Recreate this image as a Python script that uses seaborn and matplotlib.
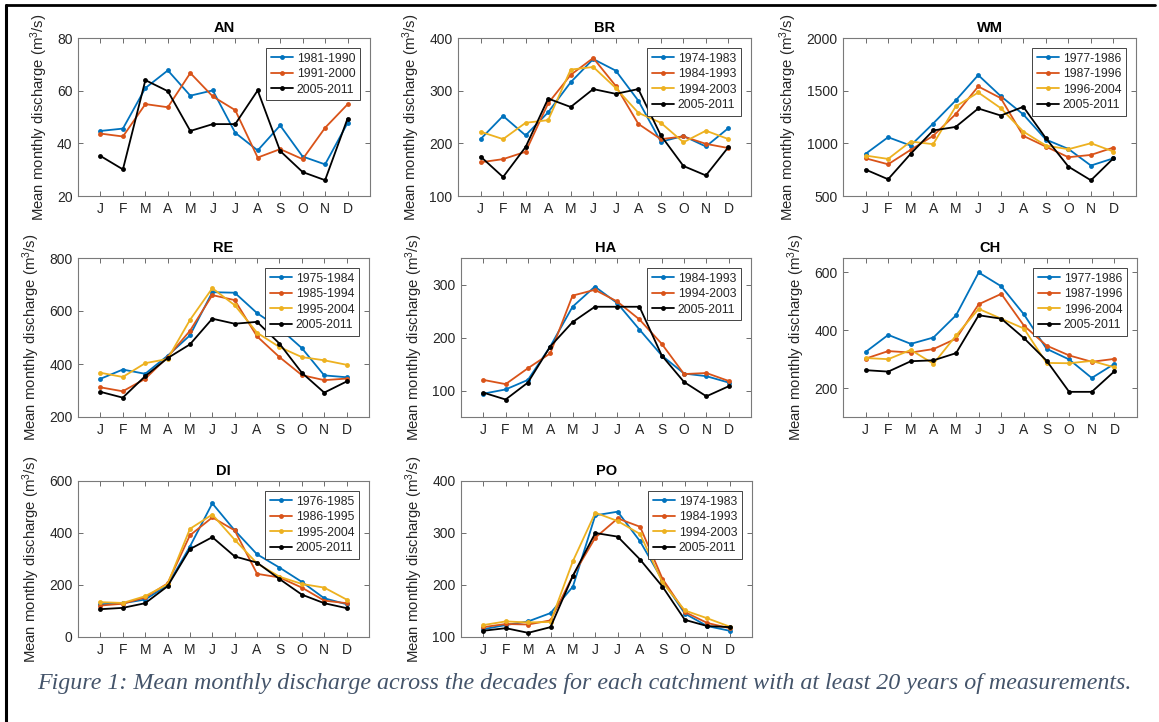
import numpy as np
import pandas as pd
import matplotlib
matplotlib.use('Agg')
import matplotlib.pyplot as plt
from matplotlib.lines import Line2D
import seaborn as sns

# 1. Data
MONTHS = ['J', 'F', 'M', 'A', 'M', 'J', 'J', 'A', 'S', 'O', 'N', 'D']

AN = {
    '1981-1990': [44.7, 45.6, 61.0, 67.7, 58.1, 60.1, 44.0, 37.3, 46.8, 35.0, 32.0, 47.7],
    '1991-2000': [43.7, 42.6, 54.9, 53.7, 66.7, 57.8, 52.6, 34.6, 37.8, 34.0, 45.9, 54.8],
    '2005-2011': [35.2, 30.1, 64.0, 59.8, 44.7, 47.3, 47.3, 60.1, 37.1, 29.1, 26.0, 49.4],
}
BR = {
    '1974-1983': [208, 252, 215, 259, 316, 360, 338, 281, 203, 214, 194, 229],
    '1984-1993': [164, 170, 184, 276, 330, 362, 309, 237, 208, 213, 199, 191],
    '1994-2003': [222, 208, 239, 244, 340, 345, 305, 258, 239, 202, 224, 208],
    '2005-2011': [175, 136, 193, 285, 269, 303, 294, 303, 215, 157, 139, 193],
}
WM = {
    '1977-1986': [900, 1058, 979, 1188, 1407, 1648, 1448, 1274, 1036, 947, 789, 858],
    '1987-1996': [858, 801, 938, 1071, 1277, 1540, 1429, 1071, 969, 868, 890, 960],
    '1996-2004': [884, 852, 1017, 992, 1350, 1483, 1334, 1112, 979, 944, 1001, 922],
    '2005-2011': [751, 659, 900, 1122, 1156, 1331, 1264, 1347, 1049, 779, 649, 858],
}
RE = {
    '1975-1984': [344, 379, 363, 431, 508, 671, 669, 592, 535, 460, 357, 350],
    '1985-1994': [312, 297, 344, 426, 525, 660, 641, 504, 426, 358, 339, 345],
    '1995-2004': [367, 351, 403, 419, 566, 686, 622, 518, 464, 426, 414, 397],
    '2005-2011': [295, 273, 354, 422, 474, 571, 552, 559, 477, 367, 292, 334],
}
HA = {
    '1984-1993': [94, 102, 120, 183, 258, 296, 265, 215, 166, 132, 127, 115],
    '1994-2003': [120, 112, 142, 170, 279, 290, 268, 234, 188, 131, 133, 118],
    '2005-2011': [96, 83, 115, 183, 229, 258, 258, 258, 166, 116, 89, 108],
}
CH = {
    '1977-1986': [325, 384, 353, 375, 452, 600, 552, 455, 336, 299, 235, 284],
    '1987-1996': [302, 328, 323, 335, 371, 490, 526, 416, 347, 313, 291, 301],
    '1996-2004': [304, 300, 332, 284, 382, 474, 440, 406, 287, 286, 294, 272],
    '2005-2011': [262, 257, 293, 296, 321, 452, 440, 373, 295, 187, 187, 258],
}
DI = {
    '1976-1985': [126, 130, 144, 199, 348, 514, 410, 318, 267, 212, 149, 126],
    '1986-1995': [121, 128, 152, 206, 391, 460, 410, 243, 229, 190, 140, 130],
    '1995-2004': [134, 131, 157, 203, 416, 471, 374, 283, 232, 204, 190, 144],
    '2005-2011': [107, 112, 130, 195, 338, 384, 310, 286, 223, 163, 130, 111],
}
PO = {
    '1974-1983': [115, 123, 130, 146, 197, 334, 341, 284, 209, 145, 121, 112],
    '1984-1993': [119, 125, 124, 132, 218, 291, 328, 312, 212, 148, 127, 117],
    '1994-2003': [123, 130, 128, 129, 246, 339, 323, 298, 205, 151, 136, 120],
    '2005-2011': [112, 117, 108, 119, 218, 300, 293, 249, 197, 133, 121, 119],
}

CAPTION = ('Figure 1: Mean monthly discharge across the decades for each catchment '
           'with at least 20 years of measurements.')

# 2. Layout: panel box in pixels (left, top, right, bottom), y limits and ticks
W, H = 1159, 722
PANELS = [
    ('AN', AN, (78, 38, 370, 196), (20, 80), [20, 40, 60, 80]),
    ('BR', BR, (458, 38, 751, 196), (100, 400), [100, 200, 300, 400]),
    ('WM', WM, (843, 38, 1136, 196), (500, 2000), [500, 1000, 1500, 2000]),
    ('RE', RE, (78, 258, 369, 417), (200, 800), [200, 400, 600, 800]),
    ('HA', HA, (461, 258, 751, 417), (50, 350), [100, 200, 300]),
    ('CH', CH, (843, 258, 1137, 417), (100, 650), [200, 400, 600]),
    ('DI', DI, (78, 481, 369, 637), (0, 600), [0, 200, 400, 600]),
    ('PO', PO, (461, 481, 752, 637), (100, 400), [100, 200, 300, 400]),
]
MATLAB_COLORS = ['#0072BD', '#D95319', '#EDB120']
TXT = '#262626'

# 3. Style
sns.set_style('white')
plt.rcParams['font.family'] = ['Liberation Sans', 'DejaVu Sans']
plt.rcParams['mathtext.default'] = 'regular'

fig = plt.figure(figsize=(W / 100, H / 100), dpi=100)
x = np.arange(1, 13)

for name, series, (l, t, r, b), ylim, yticks in PANELS:
    ax = fig.add_axes([l / W, 1 - b / H, (r - l) / W, (b - t) / H])
    periods = list(series.keys())
    for i, period in enumerate(periods):
        c = 'black' if period == '2005-2011' else MATLAB_COLORS[i]
        sns.lineplot(x=x, y=series[period], color=c, linewidth=1.3, marker='.',
                     markersize=7, markeredgecolor=c, markeredgewidth=0,
                     label=period, ax=ax)

    ax.set_xlim(0, 13)
    ax.set_ylim(*ylim)
    ax.set_xticks(x)
    ax.set_xticklabels(MONTHS)
    ax.set_yticks(yticks)
    ax.set_xlabel('')
    ax.set_ylabel('Mean monthly discharge (m$^{3}$/s)', fontsize=10.7, color=TXT, labelpad=5)
    ax.set_title(name, fontsize=10.5, fontweight='bold', color='black', pad=4)
    ax.tick_params(direction='in', bottom=True, left=True, top=True, right=True,
                   length=3.5, width=0.6, color='#555555', labelcolor=TXT,
                   labelsize=10, pad=4)
    for s in ax.spines.values():
        s.set_color('#7a7a7a')
        s.set_linewidth(0.8)

    leg = ax.legend(loc='upper right', fontsize=8.8, frameon=True, fancybox=False,
                    edgecolor='#262626', framealpha=1, borderaxespad=0.8,
                    handlelength=1.8, handletextpad=0.3, labelspacing=0.28,
                    borderpad=0.4)
    leg.get_frame().set_linewidth(0.6)

# 4. Page frame and caption
fig.add_artist(Line2D([6 / W, 1155 / W], [1 - 5 / H, 1 - 5 / H], color='black',
                      lw=2, transform=fig.transFigure))
fig.add_artist(Line2D([6 / W, 6 / W], [0, 1 - 5 / H], color='black',
                      lw=2.2, transform=fig.transFigure))
fig.text(37 / W, 1 - 683 / H, CAPTION, fontsize=17.25, style='italic',
         family='Liberation Serif', color='#44546A', va='center', ha='left')

fig.savefig('out.png', dpi=100)
